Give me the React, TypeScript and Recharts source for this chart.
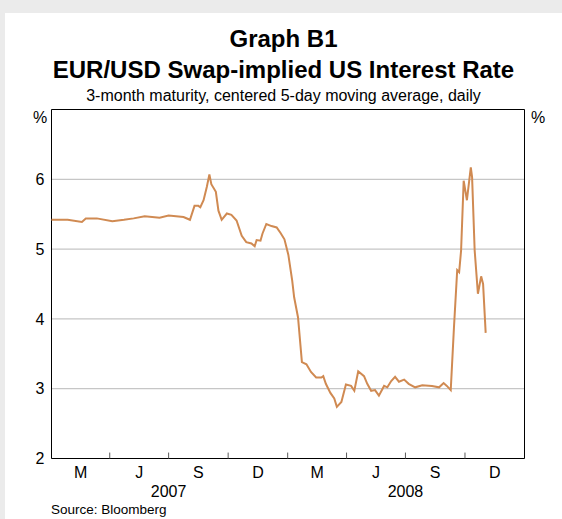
import React from 'react';
import {
  LineChart,
  Line,
  XAxis,
  YAxis,
  CartesianGrid,
  ReferenceArea,
  ReferenceLine,
} from 'recharts';

// daily series (centered 5-day moving average)
const dates = [
  '2007-01-01', '2007-01-26', '2007-02-17', '2007-02-23', '2007-03-12', '2007-04-05',
  '2007-04-23', '2007-05-08', '2007-05-25', '2007-06-17', '2007-07-01', '2007-07-24',
  '2007-08-03', '2007-08-10', '2007-08-16', '2007-08-19', '2007-08-24', '2007-08-29',
  '2007-09-02', '2007-09-05', '2007-09-12', '2007-09-16', '2007-09-21', '2007-09-29',
  '2007-10-06', '2007-10-14', '2007-10-22', '2007-10-29', '2007-11-06', '2007-11-11',
  '2007-11-14', '2007-11-20', '2007-11-23', '2007-11-29', '2007-12-07', '2007-12-15',
  '2007-12-21', '2007-12-27', '2008-01-02', '2008-01-08', '2008-01-11', '2008-01-17',
  '2008-01-23', '2008-01-30', '2008-02-06', '2008-02-14', '2008-02-22', '2008-02-25',
  '2008-02-29', '2008-03-07', '2008-03-13', '2008-03-17', '2008-03-24', '2008-03-31',
  '2008-04-08', '2008-04-13', '2008-04-19', '2008-04-28', '2008-05-03', '2008-05-09',
  '2008-05-15', '2008-05-21', '2008-05-29', '2008-06-03', '2008-06-09', '2008-06-15',
  '2008-06-21', '2008-06-29', '2008-07-06', '2008-07-16', '2008-07-27', '2008-08-11',
  '2008-08-22', '2008-08-29', '2008-09-03', '2008-09-09', '2008-09-14', '2008-09-19',
  '2008-09-22', '2008-09-25', '2008-09-29', '2008-10-04', '2008-10-10', '2008-10-12',
  '2008-10-16', '2008-10-21', '2008-10-26', '2008-10-29', '2008-11-02',
];

const rates = [
  5.42, 5.42, 5.39, 5.44, 5.44, 5.40,
  5.42, 5.44, 5.47, 5.45, 5.48, 5.46,
  5.42, 5.62, 5.62, 5.60, 5.70, 5.89,
  6.07, 5.93, 5.82, 5.55, 5.42, 5.51,
  5.49, 5.41, 5.19, 5.10, 5.08, 5.04,
  5.13, 5.12, 5.22, 5.36, 5.33, 5.31,
  5.23, 5.14, 4.92, 4.55, 4.31, 4.02,
  3.38, 3.35, 3.24, 3.16, 3.16, 3.18,
  3.07, 2.94, 2.86, 2.74, 2.81, 3.06,
  3.04, 2.97, 3.25, 3.18, 3.07, 2.97,
  2.98, 2.90, 3.04, 3.02, 3.11, 3.17,
  3.10, 3.13, 3.07, 3.02, 3.05, 3.04,
  3.02, 3.08, 3.04, 2.98, 3.88, 4.70,
  4.67, 4.98, 5.98, 5.70, 6.17, 6.03,
  4.98, 4.36, 4.61, 4.50, 3.80,
];

// quarter boundaries and labels (RBA style: M J S D quarters)
const quarterStarts = [
  '2007-01-01', '2007-04-01', '2007-07-01', '2007-10-01',
  '2008-01-01', '2008-04-01', '2008-07-01', '2008-10-01', '2009-01-01',
];
const quarterLabels = ['M', 'J', 'S', 'D', 'M', 'J', 'S', 'D'];
const years = ['2007', '2008'];
const yTicks = [2, 3, 4, 5, 6];

const toTime = (d: string) => Date.parse(d + 'T00:00:00Z');

const data = dates.map((d, i) => ({ t: toTime(d), rate: rates[i] }));
const bounds = quarterStarts.map(toTime);
const domainX: [number, number] = [bounds[0], bounds[bounds.length - 1]];
const quarterMids = bounds.slice(0, -1).map((b, i) => (b + bounds[i + 1]) / 2);
const yearMids = years.map((y) => toTime(`${y}-07-01`));

const FONT = 'Arial, "Liberation Sans", Helvetica, sans-serif';
const LINE_COLOR = '#d08a52';
const AXIS_FONT = 16;

export default function App() {
  return (
    <div
      style={{
        position: 'absolute',
        left: 0,
        top: 0,
        width: 562,
        height: 519,
        background: '#ebebeb',
        overflow: 'hidden',
        fontFamily: FONT,
        color: '#000',
      }}
    >
      <div style={{ position: 'absolute', left: 5, top: 13, width: 557, height: 506, background: '#fff' }} />

      {/* Titles */}
      <div style={{ position: 'absolute', left: 5, width: 557, top: 27, textAlign: 'center', fontSize: 24, fontWeight: 'bold', lineHeight: '24px' }}>
        Graph B1
      </div>
      <div style={{ position: 'absolute', left: 5, width: 557, top: 58, textAlign: 'center', fontSize: 24, fontWeight: 'bold', lineHeight: '24px' }}>
        EUR/USD Swap-implied US Interest Rate
      </div>
      <div style={{ position: 'absolute', left: 5, width: 557, top: 88, textAlign: 'center', fontSize: 16, lineHeight: '16px' }}>
        3-month maturity, centered 5-day moving average, daily
      </div>

      <div style={{ position: 'absolute', left: 0, top: 0 }}>
        <LineChart
          width={562}
          height={519}
          data={data}
          margin={{ top: 109.5, right: 0.5, bottom: 18.5, left: 0 }}
        >
          <CartesianGrid horizontal vertical={false} stroke="#c6c6c6" strokeWidth={1.2} />
          <XAxis
            dataKey="t"
            type="number"
            domain={domainX}
            ticks={quarterMids}
            interval={0}
            tickFormatter={(_v: number, i: number) => quarterLabels[i]}
            axisLine={false}
            tickLine={false}
            tickSize={0}
            tickMargin={8}
            height={22}
            tick={{ fill: '#000', fontSize: AXIS_FONT, fontFamily: FONT }}
          />
          <XAxis
            xAxisId="year"
            dataKey="t"
            type="number"
            domain={domainX}
            ticks={yearMids}
            interval={0}
            tickFormatter={(_v: number, i: number) => years[i]}
            axisLine={false}
            tickLine={false}
            tickSize={0}
            tickMargin={5}
            height={20}
            tick={{ fill: '#000', fontSize: AXIS_FONT, fontFamily: FONT }}
          />
          <YAxis
            type="number"
            domain={[2, 7]}
            ticks={yTicks}
            interval={0}
            width={51.5}
            axisLine={false}
            tickLine={false}
            tickSize={0}
            tickMargin={7}
            tick={{ fill: '#000', fontSize: AXIS_FONT, fontFamily: FONT }}
          />
          <YAxis
            yAxisId="right"
            orientation="right"
            type="number"
            domain={[2, 7]}
            ticks={yTicks}
            interval={0}
            width={37}
            axisLine={false}
            tickLine={false}
            tickSize={0}
            tickMargin={9}
            tick={{ fill: '#000', fontSize: AXIS_FONT, fontFamily: FONT, textAnchor: 'start' }}
          />
          {bounds.slice(1, -1).map((b) => (
            <ReferenceLine
              key={b}
              segment={[{ x: b, y: 2 }, { x: b, y: 2.085 }]}
              stroke="#5a5a5a"
              strokeWidth={1}
            />
          ))}
          <Line
            type="linear"
            dataKey="rate"
            stroke={LINE_COLOR}
            strokeWidth={2}
            dot={false}
            isAnimationActive={false}
          />
          <ReferenceArea
            x1={domainX[0]}
            x2={domainX[1]}
            y1={2}
            y2={7}
            fill="none"
            stroke="#000"
            strokeWidth={1}
            ifOverflow="visible"
          />
        </LineChart>
      </div>

      <div style={{ position: 'absolute', left: 33, top: 110, fontSize: AXIS_FONT, lineHeight: '16px' }}>%</div>
      <div style={{ position: 'absolute', left: 531, top: 110, fontSize: AXIS_FONT, lineHeight: '16px' }}>%</div>

      <div style={{ position: 'absolute', left: 51, top: 503, fontSize: 13.5, lineHeight: '14px' }}>
        Source: Bloomberg
      </div>
    </div>
  );
}
